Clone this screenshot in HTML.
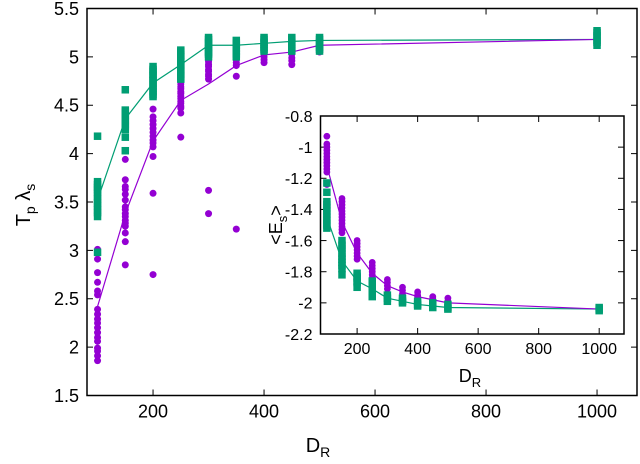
<!DOCTYPE html>
<html><head><meta charset="utf-8"><style>
html,body{margin:0;padding:0;background:#fff;}
svg{display:block;font-family:"Liberation Sans",sans-serif;}
</style></head><body>
<svg id="chart" width="640" height="464" viewBox="0 0 640 464"></svg>
<script>
const dsizes = [100,150,200,250,300,350,400,450,500,1000];
const mainPurplePts = [
 [3.01,2.91,2.77,2.67,2.58,2.54,2.39,2.34,2.29,2.20,2.15,2.06,1.99,1.96,1.91,1.86,2.10,2.25],
 [3.94,3.73,3.66,3.63,3.52,3.45,3.38,3.31,3.25,3.18,3.09,2.85,3.42,3.35,3.28,3.58],
 [4.46,4.38,4.34,4.30,4.26,4.18,4.14,4.11,4.07,3.97,3.59,2.75,4.22],
 [4.77,4.72,4.67,4.62,4.57,4.52,4.47,4.42,4.17,4.75,4.69,4.64,4.59,4.54,4.49],
 [4.97,4.92,4.87,4.82,4.77,3.62,3.38,4.95,4.90,4.85,4.80],
 [5.03,4.97,4.91,4.80,3.22,5.00,4.94],
 [5.06,5.00,4.94,5.03,4.97],
 [5.06,4.99,4.92,5.03,4.96],
 [5.12,5.08,5.05,5.10],
 [5.18]
];
const mainPurpleMean = [2.42,3.38,4.13,4.55,4.72,4.91,5.02,5.05,5.12,5.18];
const mainGreenPts = [
 [4.18,3.71,3.68,3.65,3.63,3.60,3.56,3.53,3.49,3.46,3.42,3.39,3.35,2.98],
 [4.66,4.45,4.43,4.40,4.38,4.35,4.33,4.30,4.28,4.25,4.17,4.03],
 [4.90,4.87,4.85,4.82,4.80,4.77,4.75,4.72,4.69,4.67,4.64,4.61,4.59],
 [5.07,5.05,5.02,5.00,4.97,4.95,4.92,4.90,4.87,4.85,4.82,4.80,4.77],
 [5.20,5.18,5.15,5.13,5.10,5.08,5.05,5.03,5.00],
 [5.17,5.14,5.12,5.09,5.06,5.03,5.00],
 [5.20,5.18,5.15,5.13,5.10,5.08,5.06],
 [5.20,5.18,5.15,5.13,5.10,5.08,5.06],
 [5.20,5.18,5.15,5.13,5.10,5.08,5.06],
 [5.27,5.25,5.22,5.20,5.17,5.15,5.12]
];
const mainGreenMean = [3.52,4.36,4.73,4.92,5.12,5.12,5.14,5.16,5.17,5.18];
const insetPurplePts = [
 [-0.93,-0.98,-1.00,-1.02,-1.04,-1.06,-1.08,-1.10,-1.12,-1.14,-1.16,-1.24],
 [-1.33,-1.35,-1.37,-1.39,-1.41,-1.43,-1.45,-1.47,-1.49,-1.51,-1.53,-1.55],
 [-1.60,-1.62,-1.64,-1.66,-1.68,-1.70,-1.72],
 [-1.74,-1.76,-1.78,-1.80,-1.82,-1.84],
 [-1.85,-1.87,-1.89,-1.91],
 [-1.90,-1.92,-1.94],
 [-1.93,-1.95,-1.96],
 [-1.96,-1.97,-1.98],
 [-1.97,-1.99,-2.00],
 [-2.04]
];
const insetPurpleMean = [-1.12,-1.48,-1.68,-1.81,-1.89,-1.93,-1.96,-1.98,-2.00,-2.04];
const insetGreenPts = [
 [-1.23,-1.29,-1.35,-1.37,-1.39,-1.41,-1.43,-1.45,-1.47,-1.49,-1.50,-1.52],
 [-1.60,-1.63,-1.65,-1.68,-1.70,-1.72,-1.74,-1.76,-1.78,-1.82],
 [-1.81,-1.83,-1.84,-1.86,-1.87,-1.90],
 [-1.86,-1.88,-1.89,-1.91,-1.93,-1.96],
 [-1.95,-1.97,-1.99],
 [-1.97,-1.99,-2.00],
 [-1.99,-2.01,-2.02],
 [-2.00,-2.02,-2.03],
 [-2.01,-2.03,-2.04],
 [-2.03,-2.04,-2.05]
];
const insetGreenMean = [-1.45,-1.73,-1.86,-1.91,-1.97,-1.99,-2.01,-2.02,-2.03,-2.04];
const mainXTicks = [200,400,600,800,1000];
const mainYTicks = [1.5,2,2.5,3,3.5,4,4.5,5,5.5];
const insetXTicks = [200,400,600,800,1000];
const insetYTicks = [-2.2,-2,-1.8,-1.6,-1.4,-1.2,-1,-0.8];

const NS="http://www.w3.org/2000/svg";
const svg=document.getElementById('chart');
function mk(tag,attrs,parent){const e=document.createElementNS(NS,tag);for(const k in attrs)e.setAttribute(k,attrs[k]);(parent||svg).appendChild(e);return e;}
const PUR="#9400d3", GRN="#009e73";

function panel(name,box,xmin,xmax,ymin,ymax,xt,yt,fs,pP,pM,gP,gM,r,sq){
  const g=mk('g',{});
  
  
  const sx=v=>box.l+(v-xmin)/(xmax-xmin)*(box.r-box.l);
  const sy=v=>box.b-(v-ymin)/(ymax-ymin)*(box.b-box.t);
  mk('rect',{x:box.l,y:box.t,width:box.r-box.l,height:box.b-box.t,fill:'#fff'},g);
  xt.forEach(v=>{const x=sx(v);
    mk('line',{x1:x,x2:x,y1:box.b,y2:box.b-6,stroke:'#000','stroke-width':1},g);
    mk('line',{x1:x,x2:x,y1:box.t,y2:box.t+6,stroke:'#000','stroke-width':1},g);
    const t=mk('text',{x:x,y:box.b+fs+4,'text-anchor':'middle','font-size':fs},g);t.textContent=v;
    
    });
  yt.forEach(v=>{const y=sy(v);
    mk('line',{x1:box.l,x2:box.l+6,y1:y,y2:y,stroke:'#000','stroke-width':1},g);
    mk('line',{x1:box.r,x2:box.r-6,y1:y,y2:y,stroke:'#000','stroke-width':1},g);
    const t=mk('text',{x:box.l-8,y:y+fs*0.36,'text-anchor':'end','font-size':fs},g);t.textContent=v;
    
    });
  const line=(m,c,nm)=>{const p=mk('polyline',{points:m.map((v,i)=>sx(dsizes[i])+','+sy(v)).join(' '),fill:'none',stroke:c,'stroke-width':1.2},g);
    
    };
  line(gM,GRN,'green-mean-line');
  line(pM,PUR,'purple-mean-line');
  pP.forEach((arr,i)=>arr.forEach(v=>{const c=mk('circle',{cx:sx(dsizes[i]),cy:sy(v),r:r,fill:PUR},g);
    
    }));
  gP.forEach((arr,i)=>arr.forEach(v=>{const s=mk('rect',{x:sx(dsizes[i])-sq/2,y:sy(v)-sq/2,width:sq,height:sq,fill:GRN},g);
    
    }));
  mk('rect',{x:box.l,y:box.t,width:box.r-box.l,height:box.b-box.t,fill:'none',stroke:'#000','stroke-width':1.5},g);
}
panel('main-plot',{l:87,r:637,t:8.5,b:395.5},81,1072,1.5,5.5,mainXTicks,mainYTicks,18,mainPurplePts,mainPurpleMean,mainGreenPts,mainGreenMean,3.5,7.5);
panel('inset-plot',{l:320.5,r:624,t:116,b:334},79,1082,-2.2,-0.8,insetXTicks,insetYTicks,16,insetPurplePts,insetPurpleMean,insetGreenPts,insetGreenMean,3.4,7.5);
</script>
<svg style="position:absolute;left:0;top:0" width="640" height="464">
<text transform="translate(30,205) rotate(-90)" text-anchor="middle" font-size="20" font-family="Liberation Sans">T<tspan font-size="14" dy="5">p</tspan><tspan dy="-5"> λ</tspan><tspan font-size="14" dy="5">s</tspan></text>
<text x="318" y="452" text-anchor="middle" font-size="20" font-family="Liberation Sans">D<tspan font-size="14" dy="5">R</tspan></text>
<text transform="translate(282,225) rotate(-90)" text-anchor="middle" font-size="18" font-family="Liberation Sans">&lt;E<tspan font-size="13" dy="5">s</tspan><tspan dy="-5">&gt;</tspan></text>
<text x="470" y="382" text-anchor="middle" font-size="18" font-family="Liberation Sans">D<tspan font-size="13" dy="5">R</tspan></text>
</svg>
</body></html>
